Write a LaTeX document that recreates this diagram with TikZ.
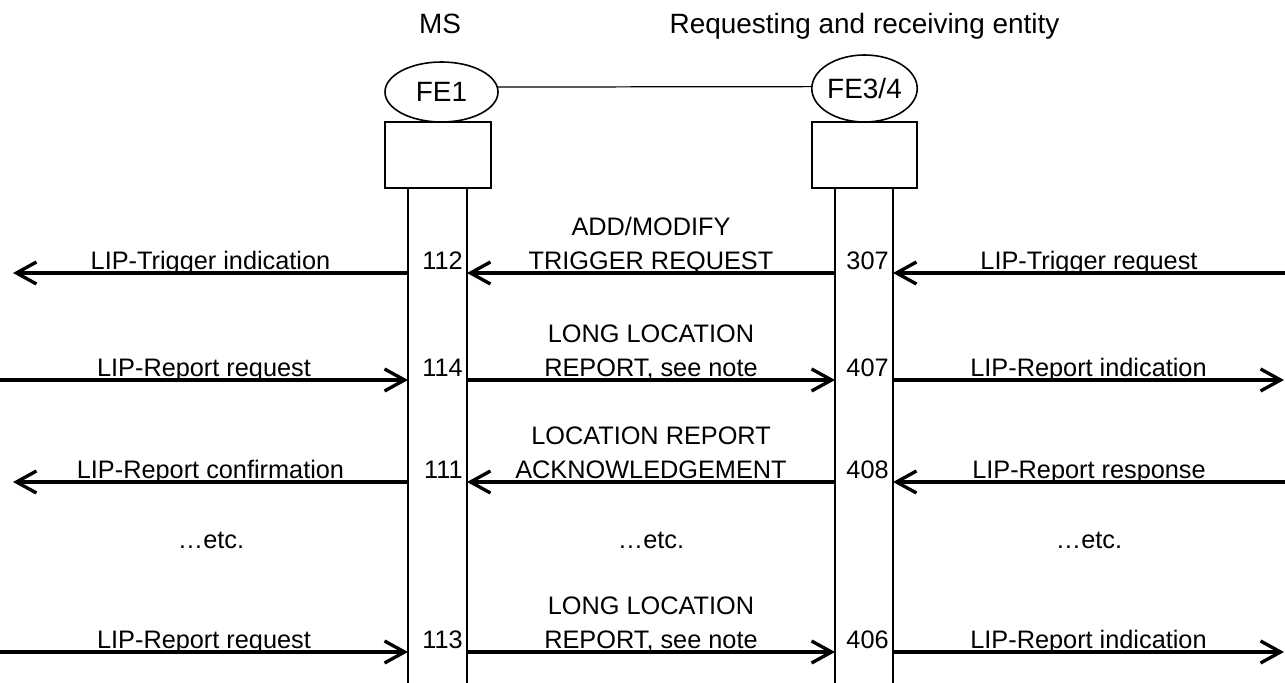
\documentclass[tikz,border=0pt]{standalone}
\usepackage{fontspec}
\setmainfont{Liberation Sans}
\usetikzlibrary{arrows.meta, shapes.geometric, positioning}

\begin{document}
\begin{tikzpicture}[
    font=\fontsize{14.4pt}{19.4pt}\selectfont,
    big/.style={font=\fontsize{15.9pt}{19pt}\selectfont},
    entity/.style={ellipse, draw, big, line width=0.9pt, inner sep=0pt},
    fbox/.style={rectangle, draw, line width=0.9pt, minimum width=2.11cm, minimum height=1.32cm, inner sep=0pt},
    life/.style={line width=0.7pt},
    msg/.style={line width=1.9pt, -{Straight Barb[length=0.4cm, width=0.44cm]}},
    lbl/.style={anchor=base, inner sep=0pt, yshift=0.06cm, align=center},
    num/.style={anchor=base east, inner sep=0pt, xshift=-0.08cm, yshift=0.07cm}
]
\useasboundingbox (0,0) rectangle (25.7,13.66);

\node[big, anchor=base] (ms) at (8.8,12.98) {MS};
\node[big, anchor=base] (entity) at (17.29,12.98) {Requesting and receiving entity};

\node[entity, minimum width=2.26cm, minimum height=1.2cm] (fe1) at (8.83,11.82) {FE1};
\node[entity, minimum width=2.1cm, minimum height=1.34cm] (fe3) at (17.29,11.89) {FE3/4};
\draw[life] (fe1.5) -- (fe3.178);
\node[fbox] (box1) at (8.76,10.56) {};
\node[fbox] (box3) at (17.29,10.56) {};

\coordinate (m1) at (8.16,0);
\coordinate (m2) at (9.34,0);
\coordinate (r1) at (16.70,0);
\coordinate (r2) at (17.86,0);
\draw[life] (box1.south -| m1) -- (m1);
\draw[life] (box1.south -| m2) -- (m2);
\draw[life] (box3.south -| r1) -- (r1);
\draw[life] (box3.south -| r2) -- (r2);

\coordinate (y1) at (0,8.20);
\coordinate (y2) at (0,6.06);
\coordinate (y3) at (0,4.02);
\coordinate (y4) at (0,2.86);
\coordinate (y5) at (0,0.62);
\coordinate (lft) at (0.26,0);
\coordinate (lft0) at (0,0);
\coordinate (rgt) at (25.68,0);
\coordinate (rgt0) at (25.7,0);

\draw[msg] (m1 |- y1) -- (lft |- y1) node[lbl, midway] {LIP-Trigger indication};
\node[num] (n112) at (m2 |- y1) {112};
\draw[msg] (r1 |- y1) -- (m2 |- y1) node[lbl, midway] {ADD/MODIFY\\TRIGGER REQUEST};
\node[num] (n307) at (r2 |- y1) {307};
\draw[msg] (rgt0 |- y1) -- (r2 |- y1) node[lbl, midway] {LIP-Trigger request};

\draw[msg] (lft0 |- y2) -- (m1 |- y2) node[lbl, midway] {LIP-Report request};
\node[num] (n114) at (m2 |- y2) {114};
\draw[msg] (m2 |- y2) -- (r1 |- y2) node[lbl, midway] {LONG LOCATION\\REPORT, see note};
\node[num] (n407) at (r2 |- y2) {407};
\draw[msg] (r2 |- y2) -- (rgt |- y2) node[lbl, midway] {LIP-Report indication};

\draw[msg] (m1 |- y3) -- (lft |- y3) node[lbl, midway] {LIP-Report confirmation};
\node[num] (n111) at (m2 |- y3) {111};
\draw[msg] (r1 |- y3) -- (m2 |- y3) node[lbl, midway] {LOCATION REPORT\\ACKNOWLEDGEMENT};
\node[num] (n408) at (r2 |- y3) {408};
\draw[msg] (rgt0 |- y3) -- (r2 |- y3) node[lbl, midway] {LIP-Report response};

\node (etc1) at (4.22,2.86) {…etc.};
\node (etc2) at (13.02,2.86) {…etc.};
\node (etc3) at (21.78,2.86) {…etc.};

\draw[msg] (lft0 |- y5) -- (m1 |- y5) node[lbl, midway] {LIP-Report request};
\node[num] (n113) at (m2 |- y5) {113};
\draw[msg] (m2 |- y5) -- (r1 |- y5) node[lbl, midway] {LONG LOCATION\\REPORT, see note};
\node[num] (n406) at (r2 |- y5) {406};
\draw[msg] (r2 |- y5) -- (rgt |- y5) node[lbl, midway] {LIP-Report indication};

\end{tikzpicture}
\end{document}
